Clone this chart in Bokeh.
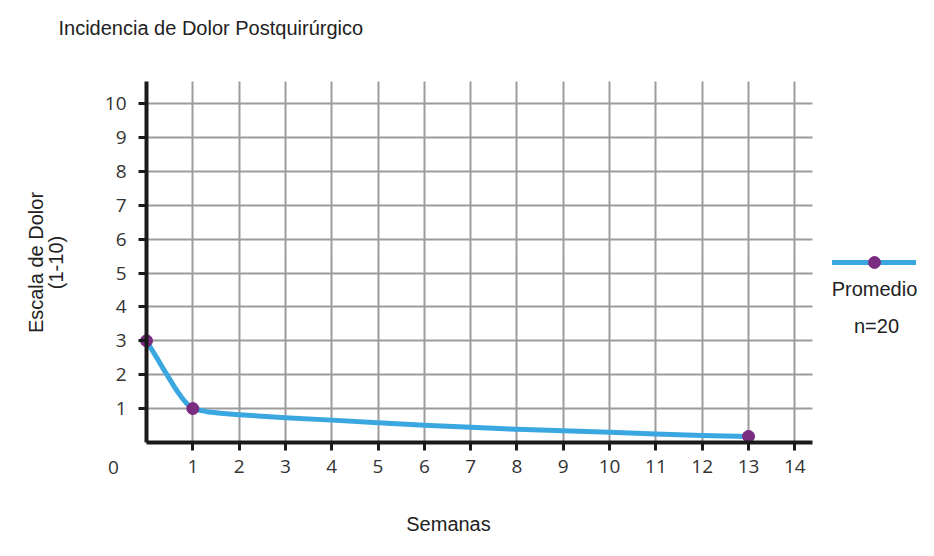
import math
from bokeh.plotting import figure
from bokeh.models import Range1d, FixedTicker, Label, Legend, LegendItem
from bokeh.embed import file_html
from bokeh.resources import INLINE

# ---- data ----
semanas = [0, 1, 13]
promedio = [3.0, 1.0, 0.18]
curva_x = [0, 0.1, 0.23, 0.32, 0.41, 0.5, 0.59, 0.68, 0.77, 0.85, 0.92, 1,
           1.15, 1.3, 1.6, 2, 3, 4, 5, 6, 7, 8, 9, 10, 11, 12, 13]
curva_y = [3.0, 2.77, 2.48, 2.27, 2.07, 1.87, 1.67, 1.48, 1.31, 1.18, 1.08, 1.0,
           0.95, 0.91, 0.86, 0.82, 0.73, 0.66, 0.58, 0.51, 0.45, 0.39, 0.35,
           0.30, 0.25, 0.21, 0.18]
x_ticks = list(range(1, 15))
y_ticks = list(range(1, 11))
x_max = 14.38
y_max = 10.65
titulo = "Incidencia de Dolor Postquirúrgico"
x_label = "Semanas"
y_label_1 = "Escala de Dolor"
y_label_2 = "(1-10)"
origen = "0"
serie = "Promedio"
nota = "n=20"

BLUE = "#3ba7e0"
PURPLE = "#7a2c80"
GRID = "#9c9c9c"
AXIS = "#1a1a1a"
TICKFONT = "Open Sans"
FONT = "Liberation Sans"
TXT = "#222222"

W, H = 918, 540
# pixel placement of the data origin and scale
X0, PX_X = 146.0, 46.31
Y0, PX_Y = 442.0, 33.9

p = figure(width=W, height=H, output_backend="svg", toolbar_location=None,
           x_range=Range1d(-X0 / PX_X, (W - X0) / PX_X),
           y_range=Range1d(-(H - Y0) / PX_Y, Y0 / PX_Y),
           min_border=0, outline_line_color=None)
p.background_fill_color = "white"
p.border_fill_color = "white"

# axes fixed at the data origin
p.xaxis.fixed_location = 0
p.yaxis.fixed_location = 0
p.xaxis.bounds = (0, x_max)
p.yaxis.bounds = (0, y_max)
for ax, ticks in ((p.xaxis, x_ticks), (p.yaxis, y_ticks)):
    ax.ticker = FixedTicker(ticks=ticks)
    ax.axis_line_width = 4
    ax.axis_line_color = AXIS
    ax.major_tick_line_width = 3
    ax.major_tick_line_color = AXIS
    ax.major_tick_out = 8
    ax.major_tick_in = 0
    ax.minor_tick_line_color = None
    ax.major_label_text_font = TICKFONT
    ax.major_label_text_font_size = "19px"
    ax.major_label_text_color = "#333333"
p.xaxis.major_label_standoff = 9
p.yaxis.major_label_standoff = 12

# grid
p.xgrid.ticker = FixedTicker(ticks=x_ticks)
p.ygrid.ticker = FixedTicker(ticks=y_ticks)
p.xgrid.bounds = (0, x_max)
p.ygrid.bounds = (0, y_max)
p.xgrid.cross_bounds = (0, y_max)
p.ygrid.cross_bounds = (0, x_max)
for g in (p.xgrid, p.ygrid):
    g.grid_line_color = GRID
    g.grid_line_width = 2

# data
line = p.line(curva_x, curva_y, line_color=BLUE, line_width=5, line_cap="round",
              line_join="round")
pts = p.scatter(semanas, promedio, size=12, fill_color=PURPLE, line_color=PURPLE)

def lab(text, x, y, font=FONT, size="20px", color=TXT, align="center", angle=0.0):
    p.add_layout(Label(x=x, y=H - y, x_units="screen", y_units="screen", text=text,
                       text_align=align, text_baseline="middle", text_font=font,
                       text_font_size=size, text_color=color, angle=angle))

lab(titulo, 58, 27, align="left")
lab(x_label, 448, 523)
lab(y_label_1, 35, 262, angle=math.pi / 2)
lab(y_label_2, 55, 262, angle=math.pi / 2)
lab(origen, 113, 467, font=TICKFONT, size="19px", color="#333333")

# legend glyph + texts beneath
legend = Legend(items=[LegendItem(label="", renderers=[line, pts])],
                location=(832, H - 277), glyph_width=84, glyph_height=30,
                padding=0, margin=0, spacing=0, label_standoff=0, label_width=0,
                label_height=30, label_text_font_size="1px",
                border_line_alpha=0, background_fill_alpha=0)
p.add_layout(legend, "center")
lab(serie, 874, 288)
lab(nota, 876, 325)

open("out.html", "w").write(file_html(p, INLINE))
